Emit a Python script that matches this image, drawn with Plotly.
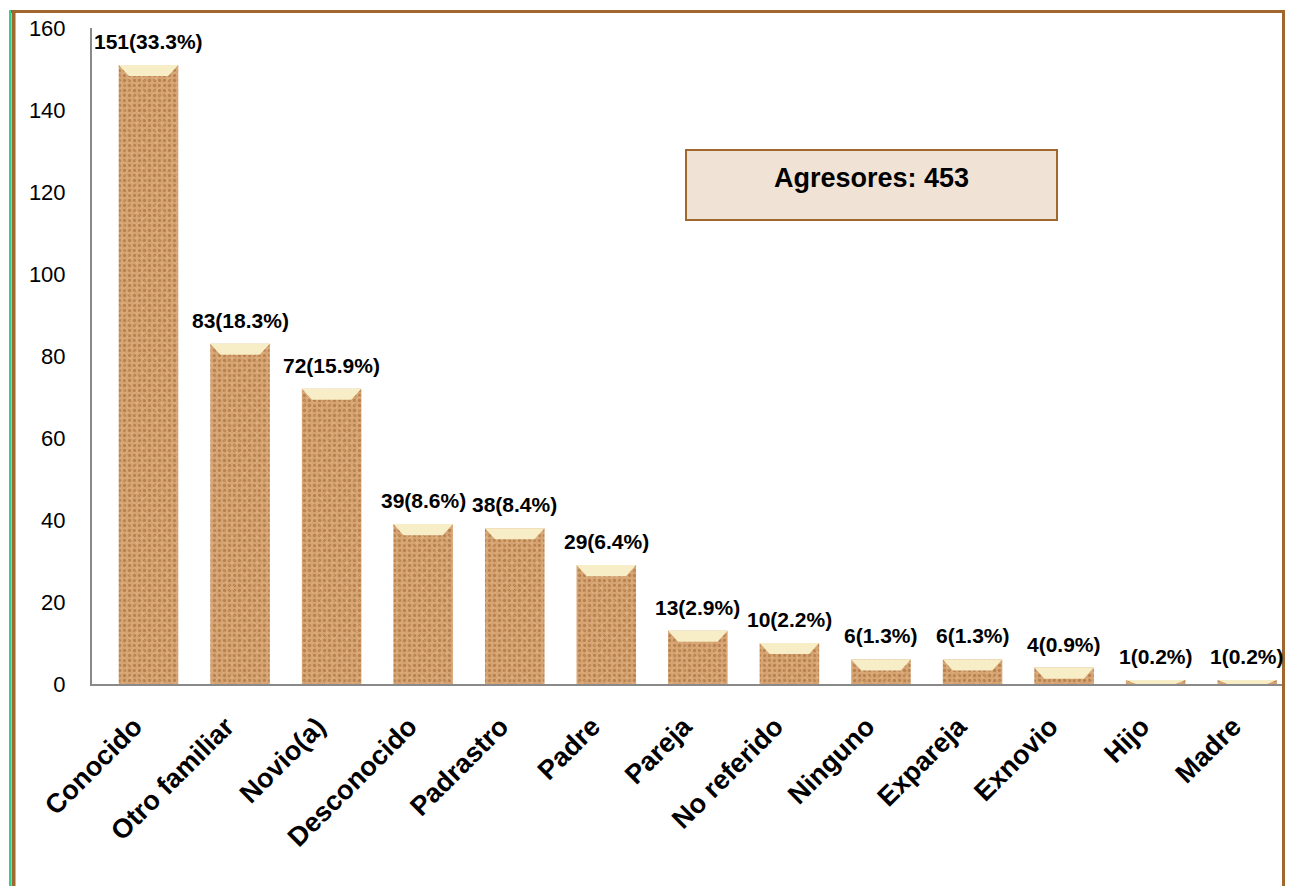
import plotly.graph_objects as go

categories = ["Conocido", "Otro familiar", "Novio(a)", "Desconocido", "Padrastro", "Padre",
              "Pareja", "No referido", "Ninguno", "Expareja", "Exnovio", "Hijo", "Madre"]
values = [151, 83, 72, 39, 38, 29, 13, 10, 6, 6, 4, 1, 1]
percents = ["33.3", "18.3", "15.9", "8.6", "8.4", "6.4", "2.9", "2.2", "1.3", "1.3", "0.9", "0.2", "0.2"]
total_label = "Agresores: 453"
y_ticks = [0, 20, 40, 60, 80, 100, 120, 140, 160]

# page has an 8px body margin; figure drawn at offset (8, 8)
OFF = 8
W, H = 1293 - OFF, 886 - OFF
PLOT_L, PLOT_R, PLOT_T, PLOT_B = 92, 1293, 28, 684   # page pixels
ML, MR, MT, MB = PLOT_L - OFF, (OFF + W) - PLOT_R, PLOT_T - OFF, (OFF + H) - PLOT_B
PW, PH = W - ML - MR, H - MT - MB

def px(x):
    return (x - PLOT_L) / PW

def py(y):
    return (PLOT_B - y) / PH

FONT = "Liberation Sans, Arial, sans-serif"
BROWN = "#A0672F"

fig = go.Figure()
fig.add_trace(go.Bar(
    x=categories, y=values,
    marker=dict(color="#D6A472", line=dict(width=0),
                pattern=dict(shape=".", fgcolor="#9A5F2E", size=5, solidity=0.35,
                             fillmode="overlay")),
    width=0.65, hoverinfo="x+y",
))
fig.add_trace(go.Bar(
    x=categories, y=values,
    marker=dict(color="rgba(0,0,0,0)", line=dict(width=0),
                pattern=dict(shape="x", fgcolor="rgba(240,200,150,0.55)", size=9,
                             solidity=0.15, fillmode="replace")),
    width=0.65, hoverinfo="skip",
))

shapes = []
annotations = []
cap = 2.7
for i, (c, v, p) in enumerate(zip(categories, values, percents)):
    h = min(cap, v)
    shapes.append(dict(
        type="path", xref="x", yref="y",
        path=f"M {i-0.325},{v} L {i+0.325},{v} L {i+0.215},{v-h} L {i-0.215},{v-h} Z",
        fillcolor="#F7EDC6", line=dict(width=0), layer="above"))
    annotations.append(dict(
        x=c, y=v, text=f"<b>{v}({p}%)</b>", showarrow=False, yanchor="bottom",
        xanchor="center", yshift=10, font=dict(family=FONT, size=21, color="black")))

# info box
shapes.append(dict(type="rect", xref="paper", yref="paper",
                   x0=px(686), x1=px(1057), y0=py(220), y1=py(150),
                   fillcolor="#F1E2D6", line=dict(color=BROWN, width=2)))
annotations.append(dict(x=px(871), y=py(178), xref="paper", yref="paper",
                        xanchor="center", yanchor="middle",
                        text=f"<b>{total_label}</b>", showarrow=False,
                        font=dict(family=FONT, size=27, color="black")))

# outer frame
shapes.append(dict(type="line", xref="paper", yref="paper", x0=px(9), x1=px(1293),
                   y0=py(11.5), y1=py(11.5), line=dict(color=BROWN, width=3)))
shapes.append(dict(type="line", xref="paper", yref="paper", x0=px(1283.5), x1=px(1283.5),
                   y0=py(10), y1=py(890), line=dict(color=BROWN, width=3)))
shapes.append(dict(type="line", xref="paper", yref="paper", x0=px(13.5), x1=px(13.5),
                   y0=py(10), y1=py(890), line=dict(color=BROWN, width=4)))
shapes.append(dict(type="line", xref="paper", yref="paper", x0=px(10), x1=px(10),
                   y0=py(10), y1=py(890), line=dict(color="#2FD08F", width=2)))

fig.update_layout(
    width=W, height=H,
    margin=dict(l=ML, r=MR, t=MT, b=MB, autoexpand=False),
    paper_bgcolor="white", plot_bgcolor="white",
    showlegend=False,
    barmode="overlay",
    shapes=shapes, annotations=annotations,
    xaxis=dict(showline=True, linecolor="#898989", linewidth=2, showgrid=False,
               tickangle=-45, ticks="", ticklabelstandoff=14, ticklabelshift=-14,
               tickfont=dict(family=FONT, size=27, color="black", weight="bold")),
    yaxis=dict(range=[0, 160], tickvals=y_ticks, showline=True, linecolor="#898989",
               linewidth=2, showgrid=False, zeroline=False, ticks="",
               ticklabelstandoff=20,
               tickfont=dict(family=FONT, size=22, color="black")),
)

fig.write_html("out.html")
